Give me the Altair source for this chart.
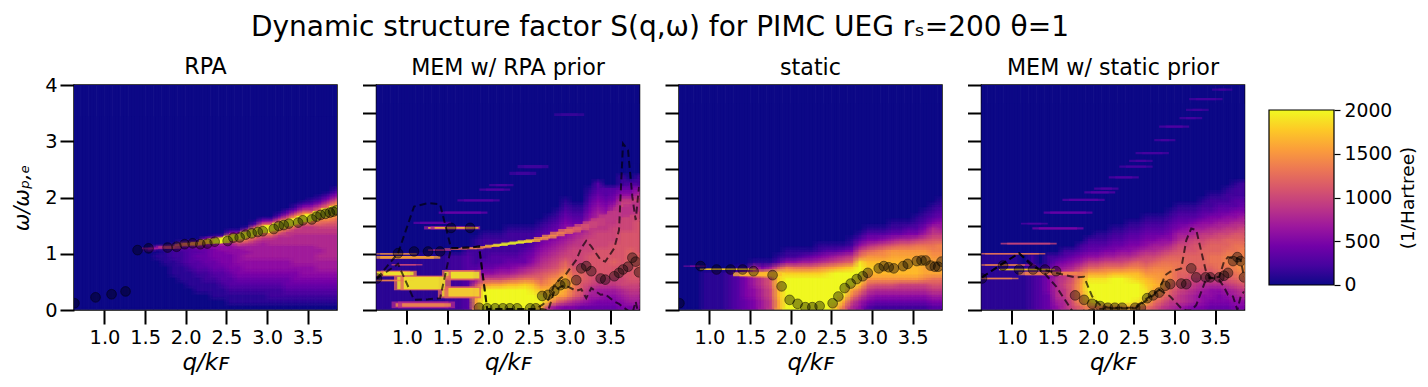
import altair as alt
import pandas as pd

SUPTITLE = "Dynamic structure factor S(q,ω) for PIMC UEG rₛ=200 θ=1"
TITLES = ["RPA", "MEM w/ RPA prior", "static", "MEM w/ static prior"]
XTITLE = "q/kꜰ"
YTITLE = "ω/ωₚ,ₑ"
CBTITLE = "(1/Hartree)"
XTICKS = [1.0, 1.5, 2.0, 2.5, 3.0, 3.5]
CBTICKS = [0, 500, 1000, 1500, 2000]
XDOM = [0.625, 3.86]
PLASMA = ["#0d0887", "#46039f", "#7201a8", "#9c179e", "#bd3786", "#d8576b", "#ed7953", "#fb9f3a", "#fdca26", "#f0f921"]

Q = [.63, .89, 1.087, 1.259, 1.407, 1.542, 1.776, 1.887, 1.986, 2.084, 2.179, 2.265, 2.355, 2.515, 2.585, 2.663, 2.737,
     2.811, 2.885, 2.947, 3.082, 3.144, 3.205, 3.267, 3.382, 3.439, 3.55, 3.608, 3.657, 3.719, 3.772, 3.813, 3.854]
W_RPA = [.12, .225, .28, .33, 1.065, 1.096, 1.11, 1.125, 1.17, 1.185, 1.17, 1.18, 1.215, 1.227, 1.286, 1.29, 1.34,
         1.363, 1.387, 1.4, 1.44, 1.493, 1.51, 1.535, 1.553, 1.594, 1.61, 1.66, 1.69, 1.71, 1.73, 1.748, 1.77]
W_MEM_RPA = [.56, 1.01, 1.04, 1.04, 1.04, 1.46, 1.46, .04, .03, .03, .03, .03, .03, .03, .03, .25, .27,
             .34, .44, .47, .53, .74, .78, .69, .56, .54, .60, .66, .72, .77, .93, .86, .67]
W_STATIC = [.12, .78, .72, .72, .72, .69, .62, .42, .18, .11, .05, .05, .07, .12, .24, .39, .47,
            .55, .60, .66, .74, .78, .76, .74, .78, .82, .87, .88, .88, .79, .77, .77, .86]
W_MEM_STATIC = [.56, .79, .72, .72, .72, .69, .26, .18, .11, .07, .04, .04, .04, .04, .04, .21, .26,
                .31, .43, .46, .47, .46, .74, .58, .58, .58, .58, .61, .66, .87, .94, .87, .58]

UP_RPA = [.56, 1.01, 1.84, 1.90, 1.88, 1.10, 1.11, 1.13, .02, .02, .02, .02, .02, .02, .02, .09, .18,
          .44, .56, .62, .89, 1.10, 1.23, 1.13, .89, .86, 1.10, 1.42, 2.96, 2.84, 2.01, 1.60, 2.19]
LO_RPA = [.56, .82, .18, .19, .21, 1.10, 1.11, 1.13, .02, .02, .02, .02, .02, .02, .02, .02, -.01,
          .33, .41, .44, .34, .37, .21, .39, .27, .28, .15, .11, .05, -.01, -.06, .15, -.12]
UP_STATIC = [.58, .83, 1.01, .76, .71, .66, .58, .59, .24, .09, .04, .04, .04, .04, .12, .21, .28,
             .36, .62, .68, .74, 1.24, 1.45, 1.42, .71, .56, .59, .86, .94, .92, .92, .89, .59]
LO_STATIC = [.58, .83, 1.01, .80, .64, .42, -.09, -.01, 0, .02, .03, .03, .03, .03, .10, .18, .26,
             .36, .30, .24, .03, -.01, -.01, .09, .53, .58, .53, .41, .27, .24, 0, .24, .33]

# Heat values: one string per q column (0.6 .. 3.9 in steps of 0.1), bottom to top, one char per omega row.
# Character index times 100 is S(q, omega) in 1/Hartree.
LEVELS = "0123456789abcdefghijk"
Q_EDGES = [round(.6 + .1 * i, 1) for i in range(34)]
W_EDGES_FINE = [.015, .1, .2, .3, .4, .5, .6, .7, .8, .9] + [round(1 + .05 * i, 2) for i in range(27)] + [4]
W_EDGES = [.015] + [round(.1 * i, 1) for i in range(1, 25)] + [3, 4]

H_RPA = ["", "", "", "", "", "", "", "", "",
    "0000000000" "05",
    "0000000001" "016",
    "0000000011" "118",
    "0000001112" "22a1",
    "0000011122" "233c1",
    "0000111233" "334e2",
    "0001112334" "345g3",
    "0001122344" "4456i5",
    "0011123445" "5567k81",
    "0011233455" "5668kc2",
    "0112334555" "6667ckg51",
    "0112345566" "667adkh61",
    "0112345667" "6779cekj81",
    "0112345667" "77789cekjb31",
    "0112345667" "777789cekjc62",
    "0122345667" "777889cfkjd72",
    "0122345667" "7778889cfkjd831",
    "0123445667" "77788899cfkjd842",
    "0123455677" "777888899cfkie9521",
    "0123456677" "7778888999cfkie9631",
    "0123456677" "7778888999cfkie97421",
    "0123456778" "778888899acdfkhea7421",
    "0123456778" "888888899abdfhkheb8531",
    "0123456778" "888888899abcdfhkifc96421"]

H_MEM_RPA = ["1111111111", "1111111111", "1111111111", "1111111111", "1111111111", "1111111111", "1111111111",
    "1111111111", "1111111111", "2222222222", "2222222222", "33333333332",
    "fggfa64322211", "kkkkfa64322221", "kkkkga64332221", "kkkkga75332221", "kkkkhb754322221", "kkkkhc864322221",
    "kkkkid974432221", "kkkjhda86543221", "hkjhecb987654321", "8gihfeca987654321", "6cgihfdba987654321",
    "5afgihfdca9876654321", "58cdedcbaaa98764321", "47abbccbaaa99864321", "4678abbbbbaaa998654321",
    "45779abbbbbaaa998765433", "45679abbbbbaaa99865433", "45679abbcbbbaaa9997543",
    "5678aabbbbbbbbaaaaa96433", "5789abbbcccbbbaaaaa9643", "6789abccccbbbbbbaaaa8643"]

H_STATIC = ["0000000", "0000000", "0000000", "1111111", "1111111", "1111111", "2222222", "33333341", "44555581",
    "556677e81", "778899g51", "99aabbi71", "gghhiijb31", "kkkkkkie621", "kkkkkkid621", "kkkkkkid731", "kkkkkkid741",
    "kkkkkkie8521", "kkkkkkjf9631", "ikkkkkkga731", "dgjkkkkhb841", "8aegkkkic9521", "67adhjkkjda631",
    "3579cfhihfc8531", "2468bfhihfd9531", "2468bfhhhfea631", "2468bfhhhgfb7421", "2468afhhhgfc8421",
    "2468afhhhgfc8531", "2468afhhhgfd95321", "2468aegghgfda75321", "3579bdgggfedb985321", "3579bdgggfeeb9764321"]

H_MEM_STATIC = ["1111111111", "1111111111", "1111111111", "1111111111", "1111111111", "11111111", "2222222222",
    "33333322", "4445554322", "6788887642", "8899a997532", "abcccba8642", "cffggfda7532", "eijkkjgc96432",
    "ekkkkjgc964321", "fkkkkjgda75321", "gkkkkkhda754321", "gkkkkkhda864321", "gkkkkjheb8654321", "fjkkkihec9754321",
    "dhjjihfdba8654321", "bdfghgfeca8754321", "9bdfgffedb9764321", "89bcdeeedca8654321", "799abccddcba8754321",
    "6889abccccba9764321", "57789abcccbba875321", "56678abccccba9764321", "45668abcddccb98653221",
    "45568acdddccba8754321", "45679bcdeedcca97643221", "5678acdeeeddcb986533221", "5689bdeffeedcba87543222"]

# Thin streaks: q start, q end, omega start, omega end, S
S_RPA = [
    (1.5, 1.7, 1.08, 1.11, 700), (1.7, 1.9, 1.09, 1.13, 1000), (1.9, 2.0, 1.13, 1.17, 1200),
    (2.0, 2.1, 1.15, 1.19, 1400), (2.1, 2.2, 1.16, 1.21, 1500), (2.2, 2.3, 1.17, 1.25, 1700),
    (2.3, 2.4, 1.18, 1.27, 2000), (2.4, 2.5, 1.19, 1.29, 2000), (2.5, 2.6, 1.23, 1.32, 2000),
    (2.6, 2.7, 1.26, 1.35, 2000), (2.7, 2.8, 1.29, 1.39, 2000), (2.8, 2.9, 1.33, 1.43, 2000),
    (2.9, 3.0, 1.37, 1.47, 2000), (3.0, 3.1, 1.41, 1.51, 2000), (3.1, 3.2, 1.45, 1.55, 2000),
    (3.2, 3.3, 1.49, 1.59, 2000), (3.3, 3.4, 1.52, 1.63, 2000), (3.4, 3.5, 1.56, 1.67, 2000),
    (3.5, 3.6, 1.59, 1.71, 2000), (3.6, 3.7, 1.64, 1.76, 2000), (3.7, 3.8, 1.68, 1.81, 2000),
    (3.8, 3.9, 1.72, 1.85, 2000)]
S_MEM_RPA = [
    (.63, 1.37, .91, .96, 1600), (.63, 1.08, .985, 1.01, 1500), (.85, 1.15, .79, .82, 1000),
    (.64, 1.08, .60, .70, 1300), (.67, 1.04, .62, .68, 2000), (.63, 1.04, .51, .54, 1400),
    (.88, 1.5, .35, .61, 1200), (.92, 1.43, .37, .59, 2000), (1.47, 1.87, .53, .71, 1200),
    (1.5, 1.85, .56, .68, 2000), (1.42, 1.87, .21, .42, 1200), (1.47, 1.85, .24, .39, 1900),
    (.85, 1.55, .03, .15, 800), (.9, 1.5, .06, .12, 1500),
    (1.25, 1.86, 1.43, 1.49, 700), (1.3, 1.84, 1.445, 1.475, 1800),
    (1.43, 1.95, 1.71, 1.75, 400), (1.12, 1.5, 1.53, 1.57, 350), (1.66, 2.1, 1.93, 1.97, 300),
    (1.93, 2.23, 2.12, 2.16, 300), (2.05, 2.27, 2.2, 2.24, 250), (2.3, 2.55, 2.4, 2.46, 200),
    (2.4, 2.7, 2.52, 2.58, 200), (2.85, 3.14, 3.45, 3.5, 170),
    (1.3, 1.5, 1.05, 1.08, 800), (1.5, 1.7, 1.07, 1.1, 1200), (1.7, 1.9, 1.08, 1.115, 1400),
    (1.9, 2.0, 1.1, 1.14, 1500), (2.0, 2.1, 1.12, 1.16, 1800), (2.1, 2.2, 1.14, 1.18, 2000),
    (2.2, 2.3, 1.16, 1.2, 2000), (2.3, 2.4, 1.18, 1.22, 2000), (2.4, 2.5, 1.19, 1.24, 1900),
    (2.5, 2.6, 1.21, 1.26, 1700), (2.6, 2.7, 1.24, 1.3, 1500), (2.7, 2.8, 1.27, 1.34, 1500),
    (2.8, 2.9, 1.31, 1.39, 1400), (2.9, 3.0, 1.35, 1.44, 1300), (3.0, 3.1, 1.38, 1.48, 1200),
    (3.1, 3.2, 1.42, 1.53, 1100), (3.2, 3.3, 1.46, 1.58, 1000), (3.3, 3.4, 1.5, 1.63, 950),
    (3.4, 3.5, 1.56, 1.7, 900), (3.5, 3.6, 1.6, 1.76, 900), (3.6, 3.7, 1.65, 1.83, 850),
    (3.7, 3.8, 1.7, 1.88, 850), (3.8, 3.9, 1.75, 1.93, 850)]
S_STATIC = [(.72, .92, .77, .79, 600), (.92, 1.53, .71, .74, 1800), (1.33, 1.85, .6, .67, 1700)]
S_MEM_STATIC = [
    (.9, 1.51, 1.165, 1.195, 1000), (.63, 1.37, .985, 1.015, 1300), (.63, 1.12, .785, .815, 1400),
    (1.12, 1.25, .785, .815, 700), (.88, 1.49, .705, .735, 1800), (1.12, 1.84, .62, .68, 1400),
    (.63, 1.04, .545, .575, 1400), (1.29, 1.84, 1.43, 1.47, 500), (1.15, 1.4, 1.52, 1.55, 280),
    (1.43, 1.95, 1.71, 1.75, 400), (1.66, 2.1, 1.94, 1.98, 320), (1.93, 2.23, 2.07, 2.11, 320),
    (2.05, 2.27, 2.14, 2.18, 280), (2.23, 2.52, 2.34, 2.38, 280), (2.36, 2.69, 2.53, 2.57, 240),
    (2.48, 2.69, 2.63, 2.67, 240), (2.56, 2.89, 2.77, 2.81, 240), (2.79, 2.97, 3.0, 3.04, 240),
    (2.85, 3.14, 3.24, 3.28, 280), (3.1, 3.3, 3.39, 3.43, 240), (3.18, 3.38, 3.54, 3.58, 200),
    (3.22, 3.55, 3.73, 3.77, 240), (3.5, 3.67, 3.9, 3.94, 200)]

FONT = "DejaVu Sans"
sx = alt.Scale(domain=XDOM, nice=False, zero=False)
sy = alt.Scale(domain=[0, 4], nice=False, zero=False)
sc = alt.Scale(scheme="plasma", domain=[0, 2000], clamp=True)

# Each heat cell is drawn several times, slightly displaced and translucent,
# which softens the cell edges the way the reference's image smoothing does.
SOFTEN = [(0, 0, 1), (-.33, -.33, .5), (.33, .33, .33), (.33, -.33, .25), (-.33, .33, .2)]


def heat_frame(columns, w_edges, sq=0.0, sw=0.0):
    rows = []
    n = len(w_edges) - 1
    for i, col in enumerate(columns):
        col = col.ljust(n, "0")
        dq = Q_EDGES[i + 1] - Q_EDGES[i]
        j = 0
        while j < n:
            k = j
            while k + 1 < n and col[k + 1] == col[j]:
                k += 1
            low = max(.015, w_edges[j] + sw * (w_edges[j + 1] - w_edges[j]))
            high = w_edges[k + 1] + sw * (w_edges[k + 1] - w_edges[k])
            rows.append(dict(q0=Q_EDGES[i] + sq * dq, q1=Q_EDGES[i + 1] + sq * dq, w0=low, w1=high,
                             s=LEVELS.index(col[j]) * 100))
            j = k + 1
    return pd.DataFrame(rows)


def panel(title, columns, w_edges, points, streaks=None, upper=None, lower=None, first=False):
    ax = alt.Axis(values=XTICKS, format=".1f", title=XTITLE, titleFontStyle="italic", tickSize=14, tickWidth=2,
                  tickColor="black", labelFontSize=19.4, titleFontSize=23, labelFont=FONT, titleFont=FONT,
                  titleFontWeight="normal", domain=False, grid=False, labelPadding=4, titlePadding=5,
                  labelColor="black", titleColor="black", labelFlush=False)
    ay = alt.Axis(values=[0, 1, 2, 3, 4] if first else [0, .5, 1, 1.5, 2, 2.5, 3, 3.5, 4], tickSize=14, tickWidth=2,
                  tickColor="black", labels=first, labelFontSize=19.4, titleFontSize=21, labelFont=FONT,
                  titleFont=FONT, titleFontWeight="normal", titleFontStyle="italic", domain=False, grid=False,
                  title=YTITLE if first else None, labelPadding=3, titlePadding=12, labelColor="black",
                  titleColor="black", labelFlush=False)
    x = alt.X("q0:Q", scale=sx, axis=ax)
    y = alt.Y("w0:Q", scale=sy, axis=ay)
    layers = []
    for sq, sw, alpha in SOFTEN:
        layers.append(alt.Chart(heat_frame(columns, w_edges, sq, sw)).mark_rect(
            clip=True, opacity=alpha, strokeWidth=.6 if alpha == 1 else 0).encode(
            x=x, x2="q1:Q", y=y, y2="w1:Q",
            color=alt.Color("s:Q", scale=sc, legend=None), stroke=alt.Color("s:Q", scale=sc, legend=None)))
    if streaks:
        df = pd.DataFrame(streaks, columns=["q0", "q1", "w0", "w1", "s"])
        for shift in (-.04, .04):
            d = df.assign(q0=df.q0 + shift, q1=df.q1 + shift)
            layers.append(alt.Chart(d).mark_rect(clip=True, opacity=.75).encode(
                x=x, x2="q1:Q", y=y, y2="w1:Q", color=alt.Color("s:Q", scale=sc, legend=None)))
    xp = alt.X("q:Q", scale=sx, axis=ax)
    yp = alt.Y("w:Q", scale=sy, axis=ay)
    for bound in (upper, lower):
        if bound:
            layers.append(alt.Chart(pd.DataFrame({"q": Q, "w": bound})).mark_line(
                clip=True, color="black", opacity=.65, strokeWidth=2, strokeDash=[7, 4]).encode(x=xp, y=yp))
    layers.append(alt.Chart(pd.DataFrame({"q": Q, "w": points})).mark_circle(
        clip=True, size=95, color="black", fillOpacity=.38, stroke="black", strokeOpacity=.45,
        strokeWidth=1).encode(x=xp, y=yp))
    return alt.layer(*layers).properties(
        width=263, height=225,
        title=alt.TitleParams(title, fontSize=22.2, font=FONT, fontWeight="normal", color="black",
                              offset=-3 if first else 5))


p1 = panel(TITLES[0], H_RPA, W_EDGES_FINE, W_RPA, S_RPA, first=True)
p2 = panel(TITLES[1], H_MEM_RPA, W_EDGES, W_MEM_RPA, S_MEM_RPA, UP_RPA, LO_RPA)
p3 = panel(TITLES[2], H_STATIC, W_EDGES, W_STATIC, S_STATIC)
p4 = panel(TITLES[3], H_MEM_STATIC, W_EDGES, W_MEM_STATIC, S_MEM_STATIC, UP_STATIC, LO_STATIC)

frame = pd.DataFrame({"v0": [0], "v1": [2000], "x0": [0], "x1": [1]})
cb_y = alt.Scale(domain=[-286, 2286], nice=False, zero=False)
cb_axis = alt.Axis(orient="right", values=CBTICKS, format="d", tickSize=6, tickWidth=1.2, tickColor="black",
                   labelFontSize=18.8, labelFont=FONT, title=CBTITLE, titleFont=FONT, titleFontSize=18.5,
                   titleFontWeight="normal", titleAngle=270, titlePadding=26, labelPadding=4, domain=False,
                   grid=False, labelColor="black", titleColor="black", labelFlush=False)
cb_x = alt.X("x0:Q", axis=None, scale=alt.Scale(domain=[0, 1], nice=False, zero=False))
gradient = alt.Gradient(gradient="linear", x1=0, x2=0, y1=1, y2=0,
                        stops=[alt.GradientStop(offset=i / (len(PLASMA) - 1), color=c) for i, c in enumerate(PLASMA)])
cb = alt.Chart(frame).mark_rect(color=gradient, stroke="black", strokeWidth=1.2).encode(
    x=cb_x, x2="x1:Q", y=alt.Y("v0:Q", scale=cb_y, axis=cb_axis), y2="v1:Q"
).properties(width=65, height=225, view=alt.ViewConfig(stroke=None),
             title=alt.TitleParams(" ", fontSize=22.2, font=FONT, offset=5))

chart = alt.hconcat(p1, p2, p3, p4, cb, spacing=22.5).properties(
    title=alt.TitleParams(SUPTITLE, fontSize=28, font=FONT, fontWeight="normal", color="black", anchor="start",
                          dx=240, offset=13),
    padding={"left": 2, "top": 6, "right": 0, "bottom": 0},
).configure_view(stroke="black", strokeWidth=1.5).configure_axis(labelFont=FONT, titleFont=FONT)

chart.save("out.html", embed_options={"renderer": "svg", "actions": False})
